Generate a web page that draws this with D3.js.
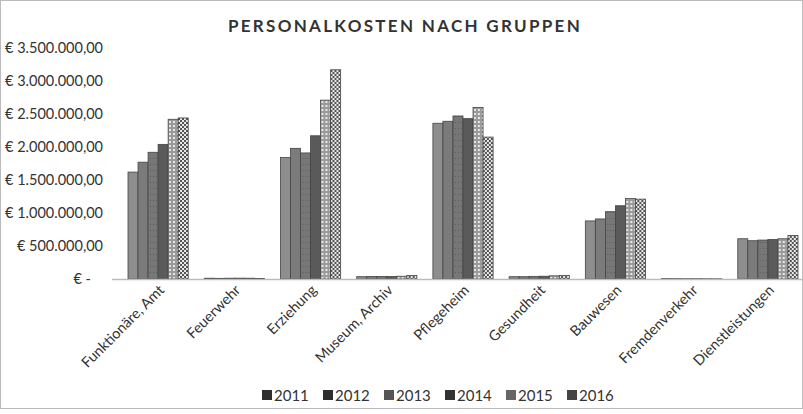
<!DOCTYPE html>
<html>
<head>
<meta charset="utf-8">
<script src="https://cdn.jsdelivr.net/npm/d3@7"></script>
<style>
  body { margin: 0; background: #fff; }
  svg { font-family: Lato, "Liberation Sans", sans-serif; }
</style>
</head>
<body>
<svg></svg>
<script>
// chart data
var groups = ["Funktionäre, Amt", "Feuerwehr", "Erziehung", "Museum, Archiv", "Pflegeheim",
              "Gesundheit", "Bauwesen", "Fremdenverkehr", "Dienstleistungen"];
var years = ["2011", "2012", "2013", "2014", "2015", "2016"];

var v2011 = [1620000, 12000, 1840000, 35000, 2360000, 35000, 880000, 6000, 610000];
var v2012 = [1770000, 10000, 1980000, 38000, 2390000, 35000, 910000, 5000, 580000];
var v2013 = [1920000, 12000, 1910000, 38000, 2470000, 40000, 1020000, 4000, 590000];
var v2014 = [2040000, 13000, 2170000, 38000, 2430000, 42000, 1110000, 4000, 600000];
var v2015 = [2420000, 12000, 2710000, 42000, 2600000, 48000, 1220000, 4000, 610000];
var v2016 = [2440000, 8000, 3170000, 52000, 2150000, 55000, 1210000, 3000, 660000];
var series = [v2011, v2012, v2013, v2014, v2015, v2016];

var yTicks = [0, 500000, 1000000, 1500000, 2000000, 2500000, 3000000, 3500000];

var width = 803;
var height = 414;

var svg = d3.select("svg")
    .attr("width", width)
    .attr("height", height);

// patterns for the grey fills (scanned look)
var defs = svg.append("defs");

var p15 = defs.append("pattern")
    .attr("id", "pat2015")
    .attr("width", 4).attr("height", 4)
    .attr("patternUnits", "userSpaceOnUse");
p15.append("rect").attr("width", 4).attr("height", 4).attr("fill", "#9a9a9a");
p15.append("rect").attr("x", 1).attr("y", 1).attr("width", 2).attr("height", 2).attr("fill", "#e6e6e6");

var p16 = defs.append("pattern")
    .attr("id", "pat2016")
    .attr("width", 4).attr("height", 4)
    .attr("patternUnits", "userSpaceOnUse");
p16.append("rect").attr("width", 4).attr("height", 4).attr("fill", "#e8e8e8");
p16.append("rect").attr("width", 2).attr("height", 2).attr("fill", "#555");
p16.append("rect").attr("x", 2).attr("y", 2).attr("width", 2).attr("height", 2).attr("fill", "#555");

var p13 = defs.append("pattern")
    .attr("id", "pat2013")
    .attr("width", 3).attr("height", 6)
    .attr("patternUnits", "userSpaceOnUse");
p13.append("rect").attr("width", 3).attr("height", 6).attr("fill", "#777");
p13.append("rect").attr("x", 1).attr("y", 2).attr("width", 1).attr("height", 1).attr("fill", "#5a5a5a");

var fills = ["#8e8e8e", "#7b7b7b", "url(#pat2013)", "#5a5a5a", "url(#pat2015)", "url(#pat2016)"];
var legendFills = ["#2e2e2e", "#2e2e2e", "#555", "#333", "#666", "#444"];

// frame of the scan
svg.append("rect")
    .attr("x", 0.5).attr("y", 0.5)
    .attr("width", width - 1).attr("height", height - 6)
    .attr("fill", "none")
    .attr("stroke", "#bbb");

// scales
var x0 = d3.scaleBand()
    .domain(groups)
    .range([120, 806])
    .paddingInner(0.21)
    .paddingOuter(0.105);

var x1 = d3.scaleBand()
    .domain(years)
    .range([0, x0.bandwidth()]);

var y = d3.scaleLinear()
    .domain([0, 3500000])
    .range([279, 48]);

// Title
svg.append("text")
    .attr("x", 405)
    .attr("y", 32)
    .attr("text-anchor", "middle")
    .attr("font-weight", 700)
    .style("font-size", "17px")
    .style("letter-spacing", "2.3px")
    .style("fill", "#333")
    .text("PERSONALKOSTEN NACH GRUPPEN");

// y axis
var fmt = d3.formatLocale({decimal: ",", thousands: ".", grouping: [3], currency: ["€ ", ""]});
var yAxis = svg.append("g")
    .attr("transform", "translate(103,0)")
    .call(d3.axisLeft(y)
        .tickValues(yTicks)
        .tickSize(0)
        .tickPadding(0)
        .tickFormat(function(d) { return d === 0 ? "€ -" : "€ " + fmt.format(",.2f")(d); }));
yAxis.select(".domain").remove();
yAxis.selectAll("text")
    .style("font-family", "Lato, sans-serif")
    .style("font-size", "14.5px")
    .style("fill", "#333")
    .attr("dx", function(d) { return d === 0 ? -12 : 0; });

// bars
var rows = groups.map(function(g, i) {
    return years.map(function(yr, j) { return {group: g, year: yr, idx: j, value: series[j][i]}; });
});

svg.append("g")
    .selectAll("g")
    .data(rows)
    .enter().append("g")
    .attr("transform", function(d, i) { return "translate(" + x0(groups[i]) + ",0)"; })
    .selectAll("rect")
    .data(function(d) { return d; })
    .enter().append("rect")
    .attr("x", function(d) { return x1(d.year); })
    .attr("y", function(d) { return y(d.value); })
    .attr("width", x1.bandwidth())
    .attr("height", function(d) { return y(0) - y(d.value); })
    .attr("fill", function(d) { return fills[d.idx]; })
    .attr("stroke", "#444")
    .attr("stroke-width", 0.8);

// x axis line
svg.append("line")
    .attr("x1", 112).attr("x2", 806)
    .attr("y1", y(0) + 0.5).attr("y2", y(0) + 0.5)
    .attr("stroke", "#bbb")
    .attr("stroke-width", 1.5);

// category labels, rotated
svg.append("g")
    .selectAll("text")
    .data(groups)
    .enter().append("text")
    .attr("transform", function(d) {
        return "translate(" + (x0(d) + x0.bandwidth() / 2 + 7) + ",291) rotate(-45)";
    })
    .attr("text-anchor", "end")
    .style("font-size", "14.5px")
    .style("fill", "#333")
    .text(function(d) { return d; });

// legend
var legend = svg.append("g")
    .selectAll("g")
    .data(years)
    .enter().append("g")
    .attr("transform", function(d, i) { return "translate(" + (262 + i * 61) + ",395)"; });

legend.append("rect")
    .attr("x", 0).attr("y", -5)
    .attr("width", 10).attr("height", 10)
    .attr("fill", function(d, i) { return legendFills[i]; });

legend.append("text")
    .attr("x", 12)
    .attr("y", 5.5)
    .style("font-size", "15px")
    .style("fill", "#333")
    .text(function(d) { return d; });
</script>
</body>
</html>
